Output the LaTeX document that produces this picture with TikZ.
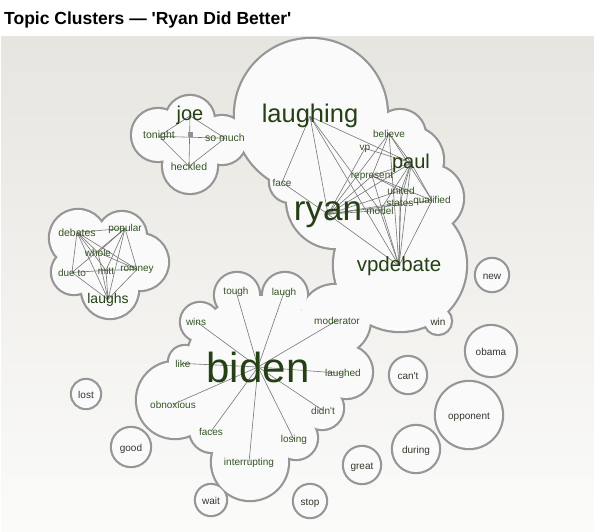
\documentclass[tikz,border=0pt]{standalone}
\usepackage{fontspec}
\newfontfamily\labelfont{Liberation Sans}
\usetikzlibrary{positioning}
\definecolor{hubgreen}{RGB}{36,64,20}
\definecolor{wordgreen}{RGB}{52,84,36}
\definecolor{lonegray}{RGB}{48,56,44}
\definecolor{rimgray}{RGB}{150,150,150}
\definecolor{blobfill}{RGB}{250,250,250}
\definecolor{linkgray}{RGB}{118,118,118}
\definecolor{paneltop}{RGB}{231,229,223}
\definecolor{panelbot}{RGB}{251,251,250}
\pgfdeclarelayer{blobs}
\pgfdeclarelayer{links}
\pgfsetlayers{blobs,links,main}
\newcommand{\cloudlist}{311/115/76, 335/200/48, 290/182/20, 375/190/40, 400/135/25, 410/160/33, 430/198/33, 400/265/66, 438/321/13,
  190/120/24, 158/135/26, 222/140/24, 190/166/27, 190/140/28,
  78/238/28, 122/236/24, 140/262/28, 110/290/28, 74/272/22, 105/262/32,
  258/368/72, 237/295/22, 285/295/22, 200/322/19, 335/320/35, 185/362/16, 175/400/38, 212/430/22, 250/462/38, 296/438/21, 322/408/21, 346/372/26,
  86/394/14, 131/447/19, 211/500/15, 310/501/16, 362/465/18, 416/449/23, 469/415/33, 408/375/18, 491/351/25, 492/275/16}

\begin{document}
\begin{tikzpicture}[x=1pt, y=-1pt,
  word/.style={anchor=base, inner sep=0pt, text=wordgreen, font=\labelfont\fontsize{10}{12}\selectfont},
  hub/.style={word, text=hubgreen},
  lone/.style={word, text=lonegray},
  link/.style={draw=linkgray, line width=0.6pt},
  rim/.style={draw=rimgray, line width=4.4pt},
  blob/.style={fill=blobfill}
]
  \useasboundingbox (0,0) rectangle (594,532);
  \begin{pgfonlayer}{blobs}
    \fill[white] (0,0) rectangle (594,532);
    \shade[top color=paneltop, bottom color=panelbot] (1,37) rectangle (594,532);
    \foreach \cx/\cy/\r in \cloudlist
      \draw[rim] (\cx,\cy) circle[radius=\r pt];
    \foreach \cx/\cy/\r in \cloudlist
      \fill[blob] (\cx,\cy) circle[radius=\r pt];
  \end{pgfonlayer}

  \node[anchor=base west, inner sep=0pt, font=\labelfont\bfseries\fontsize{17.5}{20}\selectfont] (title) at (4,25) {Topic Clusters — 'Ryan Did Better'};

  % joe
  \node[hub, font=\labelfont\fontsize{20}{22}\selectfont] (joe) at (190,121) {joe};
  \node[word, font=\labelfont\fontsize{10.5}{12}\selectfont] (tonight) at (159,139) {tonight};
  \node[word, font=\labelfont\fontsize{10.5}{12}\selectfont] (somuch) at (225,142) {so much};
  \node[word, font=\labelfont\fontsize{10.5}{12}\selectfont] (heckled) at (189,170) {heckled};
  \node[fill=linkgray!80, minimum size=5pt, inner sep=0pt] (dot) at (190,135) {};

  % ryan
  \node[hub, font=\labelfont\fontsize{25.5}{28}\selectfont] (laughing) at (310,123) {laughing};
  \node[hub, font=\labelfont\fontsize{35}{38}\selectfont] (ryan) at (328,220) {ryan};
  \node[hub, font=\labelfont\fontsize{20}{22}\selectfont] (paul) at (411,168) {paul};
  \node[hub, font=\labelfont\fontsize{20.5}{22}\selectfont] (vpdebate) at (399,271) {vpdebate};
  \node[word] (believe) at (389,137) {believe};
  \node[word] (vp) at (365,150) {vp};
  \node[word] (represent) at (372,178) {represent};
  \node[word] (united) at (401,194) {united};
  \node[word] (states) at (400,206) {states};
  \node[word] (qualified) at (432,203) {qualified};
  \node[word] (model) at (380,214) {model};
  \node[word] (face) at (282,186) {face};
  \node[lone] (win) at (438,325) {win};

  % debates
  \node[word, font=\labelfont\fontsize{10.5}{12}\selectfont] (debates) at (77,236) {debates};
  \node[word] (popular) at (125,231) {popular};
  \node[word] (whole) at (98,256) {whole};
  \node[word] (dueto) at (72,276) {due to};
  \node[word] (mitt) at (106,274) {mitt};
  \node[word] (romney) at (137,271) {romney};
  \node[hub, font=\labelfont\fontsize{14}{16}\selectfont] (laughs) at (108,303) {laughs};

  % biden
  \node[hub, font=\labelfont\fontsize{42}{44}\selectfont] (biden) at (258,382) {biden};
  \node[word] (tough) at (236,294) {tough};
  \node[word] (laugh) at (284,295) {laugh};
  \node[word] (wins) at (196,325) {wins};
  \node[word] (moderator) at (337,324) {moderator};
  \node[word] (like) at (183,367) {like};
  \node[word] (laughed) at (343,376) {laughed};
  \node[word] (obnoxious) at (173,408) {obnoxious};
  \node[word] (didnt) at (323,414) {didn't};
  \node[word] (faces) at (211,435) {faces};
  \node[word] (losing) at (294,442) {losing};
  \node[word] (interrupting) at (249,465) {interrupting};

  % singles
  \node[lone] (lost) at (86,398) {lost};
  \node[lone] (good) at (131,451) {good};
  \node[lone] (wait) at (211,504) {wait};
  \node[lone] (stop) at (310,505) {stop};
  \node[lone] (great) at (362,469) {great};
  \node[lone] (during) at (416,453) {during};
  \node[lone] (opponent) at (469,419) {opponent};
  \node[lone] (cant) at (408,379) {can't};
  \node[lone] (obama) at (491,355) {obama};
  \node[lone] (new) at (492,279) {new};

  \begin{pgfonlayer}{links}
    \foreach \a/\b in {joe/tonight, joe/somuch, joe/heckled, tonight/somuch, tonight/heckled, somuch/heckled}
      \draw[link] (\a.center) -- (\b.center);
    \foreach \a/\b in {laughing/face, laughing/ryan, laughing/paul, laughing/vpdebate, laughing/model, face/ryan,
      ryan/vp, ryan/believe, ryan/paul, ryan/represent, ryan/united, ryan/states, ryan/qualified, ryan/model, ryan/vpdebate,
      paul/believe, paul/represent, paul/united, paul/states, paul/qualified, paul/vpdebate, paul/model, paul/vp,
      believe/represent, believe/qualified, believe/vpdebate,
      vpdebate/represent, vpdebate/united, vpdebate/states, vpdebate/qualified, vpdebate/model,
      represent/united, represent/qualified}
      \draw[link] (\a.center) -- (\b.center);
    \foreach \a/\b in {debates/popular, debates/whole, debates/mitt, debates/romney, debates/laughs, debates/dueto,
      popular/dueto, popular/whole, popular/mitt, popular/romney, popular/laughs, whole/laughs, whole/romney,
      dueto/mitt, dueto/laughs, mitt/romney, mitt/laughs, romney/laughs}
      \draw[link] (\a.center) -- (\b.center);
    \foreach \b in {tough, laugh, moderator, laughed, didnt, losing, interrupting, faces, obnoxious, like, wins}
      \draw[link] (biden.center) -- (\b.center);
  \end{pgfonlayer}
\end{tikzpicture}
\end{document}
